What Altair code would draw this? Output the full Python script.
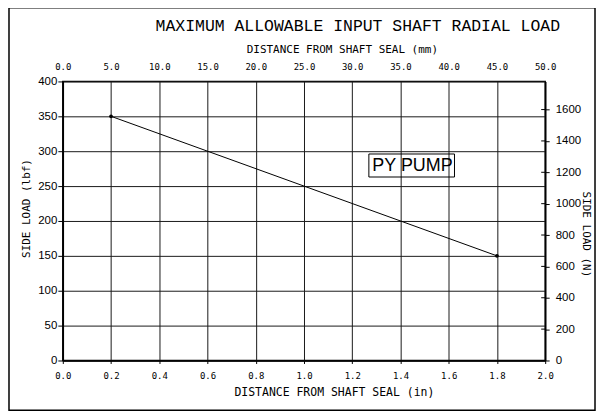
import altair as alt
import pandas as pd

# ---- data ----
distance_in = [0.2, 1.8]
side_load_lbf = [350, 150]

x_ticks_in = [0.0, 0.2, 0.4, 0.6, 0.8, 1.0, 1.2, 1.4, 1.6, 1.8, 2.0]
y_ticks_lbf = [0, 50, 100, 150, 200, 250, 300, 350, 400]
x_ticks_mm = [0.0, 5.0, 10.0, 15.0, 20.0, 25.0, 30.0, 35.0, 40.0, 45.0, 50.0]
y_ticks_n = [0, 200, 400, 600, 800, 1000, 1200, 1400, 1600]
LBF_TO_N = 4.44822

label_text = ["PY PUMP"]
label_x = [1.45]
label_y = [279]
box_x = [1.269]
box_x2 = [1.624]
box_y = [263]
box_y2 = [296]

W, H = 484, 280
MONO = "DejaVu Sans Mono"
TITLE_MONO = "Liberation Mono"
SANS = "Liberation Sans"
INK = "#000000"
GRID = "#1a1a1a"

df = pd.DataFrame({"inch": distance_in, "lbf": side_load_lbf})
df_label = pd.DataFrame({"t": label_text, "inch": label_x, "lbf": label_y})
df_box = pd.DataFrame({"inch": box_x, "inch2": box_x2, "lbf": box_y, "lbf2": box_y2})
df_mm = pd.DataFrame({"mm": x_ticks_mm})
df_n = pd.DataFrame({"n": y_ticks_n})
df_one = pd.DataFrame({"a": [0]})

x_scale = alt.Scale(domain=[0, 2], nice=False, zero=False)
y_scale = alt.Scale(domain=[0, 400], nice=False, zero=False)

x_axis = alt.Axis(
    values=x_ticks_in, format=".1f", grid=True, gridColor=GRID, gridWidth=1,
    domainColor=INK, domainWidth=1.5, tickColor=INK, tickSize=3,
    labelFont=MONO, labelFontSize=9, labelColor=INK, labelPadding=8,
    labelFlush=False, labelOverlap=False,
    title="DISTANCE FROM SHAFT SEAL (in)", titleFont=MONO, titleFontSize=11.5,
    titleFontWeight="normal", titleColor=INK, titleX=272, titleY=32,
    titleBaseline="middle", titleAlign="center",
)
y_axis = alt.Axis(
    values=y_ticks_lbf, format="d", grid=True, gridColor=GRID, gridWidth=1,
    domainColor=INK, domainWidth=1.5, tickColor=INK, tickSize=5,
    labelFont=SANS, labelFontSize=11.5, labelColor=INK, labelPadding=1,
    labelFlush=False, labelOverlap=False,
    title="SIDE LOAD (lbf)", titleFont=MONO, titleFontSize=11,
    titleFontWeight="normal", titleColor=INK, titleX=-36, titleY=127,
    titleAngle=-90, titleBaseline="middle", titleAlign="center",
)

X = alt.X("inch:Q", scale=x_scale, axis=x_axis)
Y = alt.Y("lbf:Q", scale=y_scale, axis=y_axis)

line = alt.Chart(df).mark_line(color=INK, strokeWidth=1).encode(x=X, y=Y)
pts = alt.Chart(df).mark_point(filled=True, color=INK, size=14, opacity=1).encode(x=X, y=Y)
box = alt.Chart(df_box).mark_rect(filled=False, stroke=INK, strokeWidth=1).encode(
    x=X, x2="inch2:Q", y=Y, y2="lbf2:Q")
txt = alt.Chart(df_label).mark_text(font=SANS, fontSize=18, color=INK,
                                    align="center", baseline="middle").encode(
    x=X, y=Y, text="t:N")
border = alt.Chart(df_one).mark_rect(filled=False, stroke=INK, strokeWidth=1.5).encode(
    x=alt.value(-54), x2=alt.value(534), y=alt.value(-74), y2=alt.value(330))

main = alt.layer(line, pts, box, txt, border)

top = alt.Chart(df_mm).mark_point(opacity=0).encode(
    x=alt.X("mm:Q", scale=alt.Scale(domain=[0, 50], nice=False, zero=False),
            axis=alt.Axis(
                orient="top", values=x_ticks_mm, format=".1f", grid=False,
                domain=False, ticks=False, labelFont=MONO, labelFontSize=9,
                labelColor=INK, labelPadding=10, labelFlush=False,
                labelOverlap=False,
                title="DISTANCE FROM SHAFT SEAL  (mm)", titleFont=MONO,
                titleFontSize=11, titleFontWeight="normal", titleColor=INK,
                titleX=280, titleY=-32, titleBaseline="middle",
                titleAlign="center")),
    y=alt.value(H / 2),
)

right = alt.Chart(df_n).mark_rule(color=INK, strokeWidth=1).encode(
    y=alt.Y("n:Q", scale=alt.Scale(domain=[0, 400 * LBF_TO_N], nice=False, zero=False),
            axis=alt.Axis(
                orient="right", values=y_ticks_n, format="d", grid=False,
                domainColor=INK, domainWidth=1.5, tickColor=INK, tickSize=4,
                labelFont=SANS, labelFontSize=11.5, labelColor=INK,
                labelPadding=6, labelFlush=False, labelOverlap=False,
                title="SIDE LOAD (N)", titleFont=MONO, titleFontSize=11,
                titleFontWeight="normal", titleColor=INK, titleX=40,
                titleY=153, titleAngle=90, titleBaseline="middle",
                titleAlign="center")),
    x=alt.value(W - 4), x2=alt.value(W),
)

chart = alt.layer(main, top, right).resolve_scale(
    x="independent", y="independent"
).properties(
    width=W, height=H,
    title=alt.TitleParams(
        "MAXIMUM ALLOWABLE INPUT SHAFT RADIAL LOAD", font=TITLE_MONO, fontSize=16.5,
        fontWeight="normal", color=INK, anchor="middle", frame="group",
        dx=54, offset=-28),
    autosize=alt.AutoSizeParams(type="none"),
    padding={"left": 55, "top": 73, "right": 52, "bottom": 52},
    background="white",
).configure_view(stroke=INK, strokeWidth=1.5)

chart.save("out.html", embed_options={"renderer": "svg", "actions": False})
